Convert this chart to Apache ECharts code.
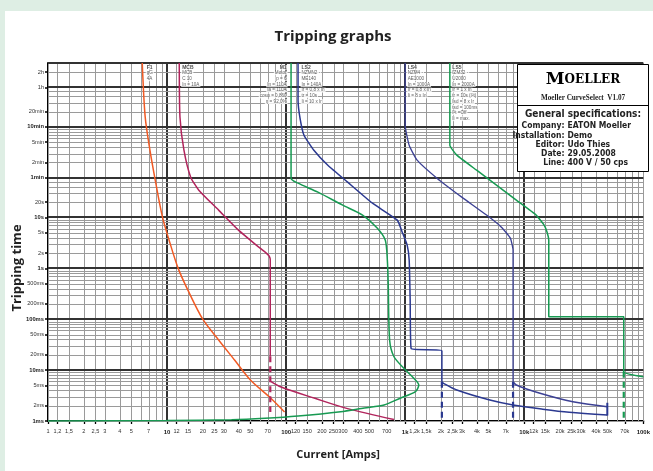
<!DOCTYPE html>
<html><head><meta charset="utf-8">
<script src="https://cdn.jsdelivr.net/npm/echarts@6/dist/echarts.min.js"></script>
<style>html,body{margin:0;padding:0;background:#deeee4;}#c{width:653px;height:471px;}</style>
</head><body><div id="c"></div>
<script>
// ---- axis ranges ----
const X_MIN = 1, X_MAX = 100000, Y_MIN = 0.001, Y_MAX = 10800;

// ---- tick labels ----
const xTickValues = [1,1.2,1.5,2,2.5,3,4,5,7,10,12,15,20,25,30,40,50,70,100,120,150,200,250,300,400,500,700,1000,1200,1500,2000,2500,3000,4000,5000,7000,10000,12000,15000,20000,25000,30000,40000,50000,70000,100000];
const xTickLabels = ['1','1,2','1,5','2','2,5','3','4','5','7','10','12','15','20','25','30','40','50','70','100','120','150','200','250','300','400','500','700','1k','1,2k','1,5k','2k','2,5k','3k','4k','5k','7k','10k','12k','15k','20k','25k','30k','40k','50k','70k','100k'];
const xBoldLabels = ['10','100','1k','10k','100k'];
const yTickValues = [0.001,0.002,0.005,0.01,0.02,0.05,0.1,0.2,0.5,1,2,5,10,20,60,120,300,600,1200,3600,7200];
const yTickLabels = ['1ms','2ms','5ms','10ms','20ms','50ms','100ms','200ms','500ms','1s','2s','5s','10s','20s','1min','2min','5min','10min','20min','1h','2h'];
const yBoldLabels = ['1ms','10ms','100ms','1s','10s','1min','10min'];

// ---- grid lines ----
const xGridMantissa = [1,1.2,1.5,2,2.5,3,4,5,6,7,8,9];
const xGridDecades = [1,10,100,1000,10000];
const xBoldGrid = [10,100,1000,10000];
const yGridValues = [0.001,0.002,0.003,0.004,0.005,0.006,0.007,0.008,0.009,
  0.01,0.02,0.03,0.04,0.05,0.06,0.07,0.08,0.09,
  0.1,0.2,0.3,0.4,0.5,0.6,0.7,0.8,0.9,
  1,2,3,4,5,6,7,8,9,
  10,20,30,40,50,
  60,120,180,240,300,360,420,480,540,
  600,1200,1800,2400,3000,
  3600,7200,10800];
const yBoldGrid = [0.01,0.1,1,10,60,600,3600,10800];

// ---- curves [A, s] ----
const f1Curve = [[6.19,10800],[6.55,942],[7.18,209],[8.05,46.4],[9.14,10.25],[10.4,3.57],[12.35,1.02],[14.96,0.373],[19.95,0.1],[27.1,0.039],[36.9,0.01575],[50.1,0.00638],[74,0.00283],[97,0.0015]];
const mcbCurve = [[12.66,10800],[12.83,942],[13.86,209],[15.76,62.5],[18.48,34.3],[27.1,13.9],[39.8,5.62],[56.2,2.85],[68.1,1.99],[72.1,1.73],[73.6,1.45],[73.6,0.0187]];
const mcbDash = [[73.6,0.0187],[73.6,0.0015]];
const mcbTail = [[73.6,0.0061],[90.8,0.00465],[174.5,0.00279],[328.6,0.00175],[805,0.00107]];
const m1Curve = [[110,10800],[110,58.9],[125.9,47],[184.8,31.3],[298.5,17.4],[438.5,11.1],[584,6.15],[681,3.57],[708,1.45],[720,0.512],[740,0.0389],[805,0.0183],[975,0.01083],[1182,0.00689],[1300,0.00509],[1219,0.00376],[908,0.0028],[665,0.00206],[453,0.0018],[287,0.00152],[126,0.00125],[66.5,0.00113],[34.8,0.00106],[10,0.00102],[1,0.001]];
const ls2Curve = [[125.9,10800],[125.9,2000],[130.9,887],[141.3,411],[171,209],[224,106],[328.6,49.2],[531,19],[858,8.83],[944,5.13],[1039,2.85],[1080,1.45],[1101,0.237],[1122,0.0265],[2033,0.024],[2033,0.0059]];
const ls2Tail = [[2033,0.0059],[2101,0.0055],[2712,0.00406],[5140,0.00258],[8050,0.00206],[14318,0.0017],[23850,0.00148],[49830,0.00131]];
const ls2Dash = [[2033,0.0059],[2033,0.001]];
const ls4Curve = [[1000,10800],[1000,647],[1080,262],[1259,133],[1848,58.9],[2985,25],[4822,11.1],[6430,6.43],[7642,3.91],[8050,2.27],[8050,0.0059]];
const ls4Tail = [[8050,0.0059],[8577,0.00509],[13335,0.00355],[25600,0.00239],[49830,0.00191]];
const ls4Dash = [[8050,0.0059],[8050,0.001]];
const lsEndBar = [[49830,0.00228],[49830,0.00128]];
const ls5Curve = [[2371,10800],[2371,262],[2712,167],[3981,84.6],[5843,43],[8577,21.8],[12589,11.1],[14678,7.04],[15548,5.13],[16066,3.57],[16066,0.1115],[68500,0.1115],[68500,0.0093],[100000,0.0074]];
const ls5Dash = [[68500,0.0093],[68500,0.001]];

// ---- curve annotations ----
const f1Text = ['F1','gG','4A'];
const mcbText = ['MCB','MCB','C 10','In = 10A'];
const m1Text = ['M1','Motor','p = 6','In = 110A','Ia = 110A','cosφ = 0,860','η = 92,0%'];
const ls2Text = ['LS2','NZMN2 -','ME140','In = 140A','Ir = 0,8 x In','tr = 10s','Ii = 10 x Ir'];
const ls4Text = ['LS4','NZM4 -','AE1000','In = 1000A','Ir = 0,8 x In','Ii = 8 x In'];
const ls5Text = ['LS5','IZM32 -','U2000','In = 2000A','Ir = 1 x In','tr = 10s (I²t)','Isd = 8 x Ir','tsd = 100ms','I²t =Off','Ii = max.'];
const annotAnchors = [[6.68,f1Text,'left'],[13.26,mcbText,'left'],[103.9,m1Text,'right'],[133.4,ls2Text,'left'],[1039,ls4Text,'left'],[2465,ls5Text,'left']];

// ---- info box ----
const infoRows = [['Company:','EATON Moeller'],['Installation:','Demo'],['Editor:','Udo Thies'],['Date:','29.05.2008'],['Line:','400 V / 50 cps']];

const C_ORANGE = '#f15a24', C_MAG = '#b1245c', C_GREEN = '#179a52', C_BLUE = '#2b3990', C_BLUE2 = '#3c4194';
const narrow = '"Liberation Sans Narrow","DejaVu Sans Condensed","Liberation Sans",sans-serif';

function lookup(vals, labels, v){
  for (let i=0;i<vals.length;i++){ if (Math.abs(Math.log10(vals[i])-Math.log10(v))<1e-6) return labels[i]; }
  return '';
}

const xGridValues = [];
xGridDecades.forEach(d=>xGridMantissa.forEach(m=>xGridValues.push(+(d*m).toPrecision(6))));
xGridValues.push(100000);

function near(arr, v){ return arr.some(a=>Math.abs(Math.log10(a)-Math.log10(v))<1e-6); }

const lineSeries = (data, color, width, opts) => Object.assign({
  type:'line', data, showSymbol:false, symbol:'none', silent:true, z:5,
  lineStyle:{color, width}, animation:false
}, opts||{});

const annotSeries = annotAnchors.map(([x, lines, align]) => ({
  type:'scatter', data:[[x, Y_MAX]], symbolSize:1, itemStyle:{color:'rgba(0,0,0,0)'}, silent:true, z:4,
  label:{show:true, position:[0,2], align, verticalAlign:'top',
    formatter: () => lines.map((t,i)=> (i<1 ? '{b|'+t+'}' : '{n|'+t+'}')).join('\n'),
    rich:{
      b:{fontSize:5, fontWeight:'bold', color:'#222', backgroundColor:'#fff', lineHeight:5.7, fontFamily:'Liberation Sans', align, padding:[0,1]},
      n:{fontSize:4.6, color:'#333', backgroundColor:'#fff', lineHeight:5.7, fontFamily:'Liberation Sans', align, padding:[0,1]}
    }}
}));

const chart = echarts.init(document.getElementById('c'), null, {renderer:'canvas'});
chart.setOption({
  animation:false,
  backgroundColor:'#deeee4',
  grid:{left:48, right:5, top:63, bottom:50, containLabel:false},
  xAxis:{type:'log', logBase:10, min:X_MIN, max:X_MAX,
    axisLine:{show:true, onZero:false, lineStyle:{color:'#000', width:2}},
    axisTick:{show:true, customValues:xTickValues, length:3, lineStyle:{color:'#000', width:1.3}},
    axisLabel:{show:true, customValues:xTickValues, hideOverlap:false, margin:7, fontSize:5.6, color:'#333', fontFamily:'Liberation Sans',
      formatter:(v)=>{const l=lookup(xTickValues,xTickLabels,v); return xBoldLabels.includes(l)?'{b|'+l+'}':l;},
      rich:{b:{fontWeight:'bold', fontSize:6, color:'#222', fontFamily:'Liberation Sans', padding:[1.5,0,0,0]}}},
    splitLine:{show:false}, minorTick:{show:false}, minorSplitLine:{show:false}},
  yAxis:{type:'log', logBase:10, min:Y_MIN, max:Y_MAX,
    axisLine:{show:true, onZero:false, lineStyle:{color:'#000', width:2}},
    axisTick:{show:true, customValues:yTickValues, length:3, lineStyle:{color:'#000', width:1.5}},
    axisLabel:{show:true, customValues:yTickValues, hideOverlap:false, margin:4, fontSize:5.6, color:'#333', fontFamily:'Liberation Sans',
      formatter:(v)=>{const l=lookup(yTickValues,yTickLabels,v); return yBoldLabels.includes(l)?'{b|'+l+'}':l;},
      rich:{b:{fontWeight:'bold', fontSize:5.8, color:'#222', fontFamily:'Liberation Sans'}}},
    splitLine:{show:false}, minorTick:{show:false}, minorSplitLine:{show:false}},
  graphic:[
    {type:'rect', z:-100, silent:true, shape:{x:5, y:11, width:648, height:460}, style:{fill:'#fff'}},
    {type:'text', z:100, silent:true, x:333, y:37, style:{text:'Tripping graphs', fill:'#222', font:'bold 15px "Open Sans", sans-serif', align:'center', verticalAlign:'middle'}},
    {type:'text', z:100, silent:true, x:17, y:268, rotation:Math.PI/2, style:{text:'Tripping time', fill:'#222', font:'bold 13px "Open Sans", sans-serif', align:'center', verticalAlign:'middle'}},
    {type:'text', z:100, silent:true, x:338, y:455, style:{text:'Current [Amps]', fill:'#222', font:'bold 11px "Open Sans", sans-serif', align:'center', verticalAlign:'middle'}},
    {type:'group', z:100, children:[
      {type:'rect', z:100, silent:true, shape:{x:517.5, y:64.5, width:131, height:107}, style:{fill:'#fff', stroke:'#000', lineWidth:1}},
      {type:'line', z:101, silent:true, shape:{x1:517.5, y1:105.5, x2:648.5, y2:105.5}, style:{stroke:'#000', lineWidth:1}},
      {type:'text', z:101, silent:true, x:583, y:80, style:{text:'{m|M}{o|OELLER}', rich:{m:{fontSize:17, fontWeight:'bold', fontFamily:'"DejaVu Serif", serif', fill:'#000'}, o:{fontSize:12, fontWeight:'bold', fontFamily:'"DejaVu Serif", serif', fill:'#000'}}, align:'center', verticalAlign:'middle'}},
      {type:'text', z:101, silent:true, x:583, y:98, style:{text:'Moeller CurveSelect  V1.07', fill:'#222', font:'bold 7.2px "Liberation Serif", serif', align:'center', verticalAlign:'middle'}},
      {type:'text', z:101, silent:true, x:583, y:114, style:{text:'General specifications:', fill:'#222', font:'bold 10px '+narrow, align:'center', verticalAlign:'middle'}}
    ].concat(infoRows.flatMap((r,i)=>[
      {type:'text', z:101, silent:true, x:564.5, y:126+i*9.3, style:{text:r[0], fill:'#222', font:'bold 8.5px '+narrow, align:'right', verticalAlign:'middle'}},
      {type:'text', z:101, silent:true, x:567.5, y:126+i*9.3, style:{text:r[1], fill:'#222', font:'bold 8.5px '+narrow, align:'left', verticalAlign:'middle'}}
    ]))}
  ],
  series:[
    {type:'custom', silent:true, z:1, animation:false, clip:false,
      data:xGridValues.map(v=>[v, Y_MIN]),
      renderItem:(p,api)=>{const v=api.value(0); const a=api.coord([v,Y_MIN]), b=api.coord([v,Y_MAX]); const bold=near(xBoldGrid,v); const x=Math.round(a[0])+(bold?0:0.5);
        return {type:'line', shape:{x1:x,y1:a[1],x2:x,y2:b[1]}, style:{stroke:bold?'#333':'#9a9a9a', lineWidth:bold?2:1}};}},
    {type:'custom', silent:true, z:1, animation:false, clip:false,
      data:yGridValues.map(v=>[X_MIN, v]),
      renderItem:(p,api)=>{const v=api.value(1); const a=api.coord([X_MIN,v]), b=api.coord([X_MAX,v]); const bold=near(yBoldGrid,v); const y=Math.round(a[1])+(bold?0:0.5);
        return {type:'line', shape:{x1:a[0],y1:y,x2:b[0],y2:y}, style:{stroke:bold?'#333':'#9a9a9a', lineWidth:bold?2:1}};}},
    ...annotSeries,
    lineSeries(f1Curve, C_ORANGE, 1.5, {smooth:0.3}),
    lineSeries(mcbCurve, C_MAG, 1.5, {smooth:0.2}),
    lineSeries(mcbDash, C_MAG, 2.2, {lineStyle:{color:C_MAG, width:2.2, type:[6,4]}}),
    lineSeries(mcbTail, C_MAG, 1.5, {smooth:0.3}),
    lineSeries(m1Curve, C_GREEN, 1.5, {smooth:0.25}),
    lineSeries(ls2Curve, C_BLUE, 1.5, {smooth:0.15}),
    lineSeries(ls2Tail, C_BLUE, 1.5, {smooth:0.3}),
    lineSeries(ls2Dash, C_BLUE, 2.2, {lineStyle:{color:C_BLUE, width:2.2, type:[6,4]}}),
    lineSeries(ls4Curve, C_BLUE2, 1.3, {smooth:0.15}),
    lineSeries(ls4Tail, C_BLUE2, 1.5, {smooth:0.3}),
    lineSeries(ls4Dash, C_BLUE, 2.2, {lineStyle:{color:C_BLUE, width:2.2, type:[6,4]}}),
    lineSeries(lsEndBar, C_BLUE, 2),
    lineSeries(ls5Curve, C_GREEN, 1.5, {smooth:0.12}),
    lineSeries(ls5Dash, C_GREEN, 2.2, {lineStyle:{color:C_GREEN, width:2.2, type:[6,4]}})
  ]
});
</script></body></html>
